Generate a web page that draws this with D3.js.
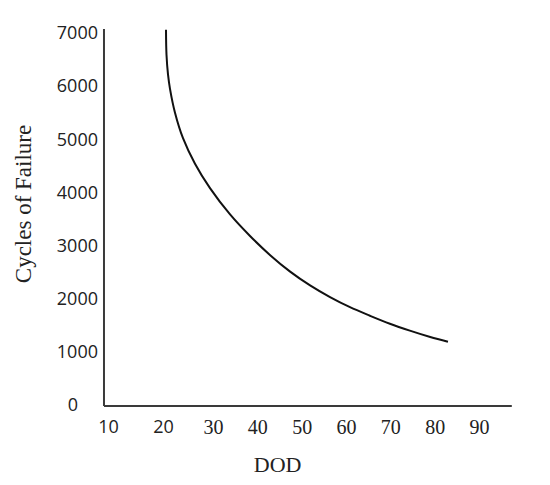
<!DOCTYPE html>
<html>
<head>
<meta charset="utf-8">
<script src="https://cdn.jsdelivr.net/npm/d3@7"></script>
<style>
  html, body { margin: 0; padding: 0; background: #fff; }
  svg { display: block; }
</style>
</head>
<body>
<svg id="chart" width="550" height="485"></svg>
<script>
// ---- data ----
const dod    = [20.6, 20.7, 21.0, 21.4, 22.4, 24.0, 26.4, 29.4, 33.8, 38.35, 42.9, 47.4, 51.9, 56.4, 60.9, 65.4, 69.9, 74.4, 79.0, 83.0];
const cycles = [7060, 6590, 6220, 5950, 5500, 5020, 4540, 4080, 3590, 3180, 2820, 2510, 2250, 2030, 1840, 1680, 1530, 1400, 1280, 1190];
const xTicks = [10, 20, 30, 40, 50, 60, 70, 80, 90];
const yTicks = [0, 1000, 2000, 3000, 4000, 5000, 6000, 7000];
const xTitle = "DOD";
const yTitle = "Cycles of Failure";

const svg = d3.select("#chart");

// piecewise scale: the original labels 10 and 20 sit a little wider apart
const x = d3.scaleLinear().domain([10, 20, 30, 90]).range([108, 163, 213, 479]);
const y = d3.scaleLinear().domain([0, 7000]).range([405, 33]);

const axisColor = "#3a3a3a";

// axis lines
svg.append("line")
  .attr("x1", x(9.27)).attr("x2", x(9.27))
  .attr("y1", y(7075)).attr("y2", y(-20))
  .attr("stroke", axisColor).attr("stroke-width", 2);
svg.append("line")
  .attr("x1", x(9.27)).attr("x2", x(97.4))
  .attr("y1", y(-20)).attr("y2", y(-20))
  .attr("stroke", axisColor).attr("stroke-width", 2);

// y axis labels
const yAxis = svg.append("g")
  .attr("transform", `translate(${x(9.27) - 6},0)`)
  .call(d3.axisLeft(y).tickValues(yTicks).tickSize(0).tickPadding(0).tickFormat(d3.format("d")));
yAxis.select(".domain").remove();
yAxis.selectAll("text")
  .attr("font-family", "'Open Sans', sans-serif")
  .attr("font-size", 18)
  .attr("fill", "#222");
yAxis.selectAll(".tick text")
  .filter(d => d === 0)
  .attr("x", -25)
  .attr("text-anchor", "middle");

// x axis labels
const xAxis = svg.append("g")
  .attr("transform", `translate(0,${y(-20)})`)
  .call(d3.axisBottom(x).tickValues(xTicks).tickSize(0).tickPadding(14).tickFormat(d3.format("d")));
xAxis.select(".domain").remove();
xAxis.selectAll("text")
  .attr("font-family", d => d <= 20 ? "'Open Sans', sans-serif" : "'Liberation Serif', serif")
  .attr("font-size", d => d <= 20 ? 18 : 20)
  .attr("fill", "#222");

// titles
svg.append("text")
  .attr("x", x(50) - 24)
  .attr("y", 472)
  .attr("text-anchor", "middle")
  .attr("font-family", "'Liberation Serif', serif")
  .attr("font-size", 22)
  .attr("fill", "#222")
  .text(xTitle);

svg.append("text")
  .attr("transform", `translate(31,${(y(0) + y(7000)) / 2 - 15}) rotate(-90)`)
  .attr("text-anchor", "middle")
  .attr("font-family", "'Liberation Serif', serif")
  .attr("font-size", 23)
  .attr("fill", "#222")
  .text(yTitle);

// curve
const pts = dod.map((d, i) => [d, cycles[i]]);
const line = d3.line()
  .x(d => x(d[0]))
  .y(d => y(d[1]))
  .curve(d3.curveCatmullRom.alpha(0.5));

svg.append("path")
  .datum(pts)
  .attr("d", line)
  .attr("fill", "none")
  .attr("stroke", "#111")
  .attr("stroke-width", 2);
</script>
</body>
</html>
